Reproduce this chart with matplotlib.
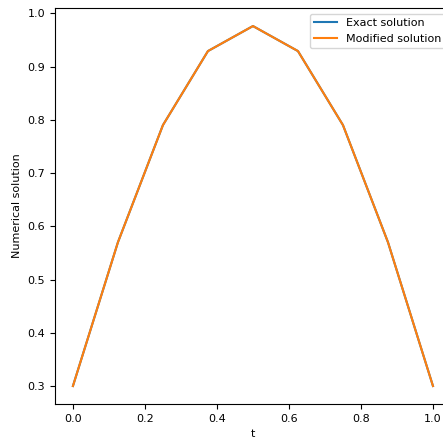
import matplotlib
matplotlib.use("Agg")
import matplotlib.pyplot as plt
import numpy as np

t = [0.0, 0.125, 0.25, 0.375, 0.5, 0.625, 0.75, 0.875, 1.0]
exact = [0.30, 0.570, 0.790, 0.929, 0.976, 0.929, 0.790, 0.570, 0.30]
modified = [0.30, 0.570, 0.790, 0.929, 0.976, 0.929, 0.790, 0.570, 0.30]

plt.rcParams["font.size"] = 8

fig = plt.figure(figsize=(4.43, 4.38), dpi=100)
ax = fig.add_axes([0.124, 0.0776, 0.894, 0.904])
ax.plot(t, exact, label="Exact solution")
ax.plot(t, modified, label="Modified solution")
ax.set_xlabel("t")
ax.set_ylabel("Numerical solution")
ax.set_xticks([0.0, 0.2, 0.4, 0.6, 0.8, 1.0])
ax.legend(loc="upper right")

fig.savefig("out.png", dpi=100)
